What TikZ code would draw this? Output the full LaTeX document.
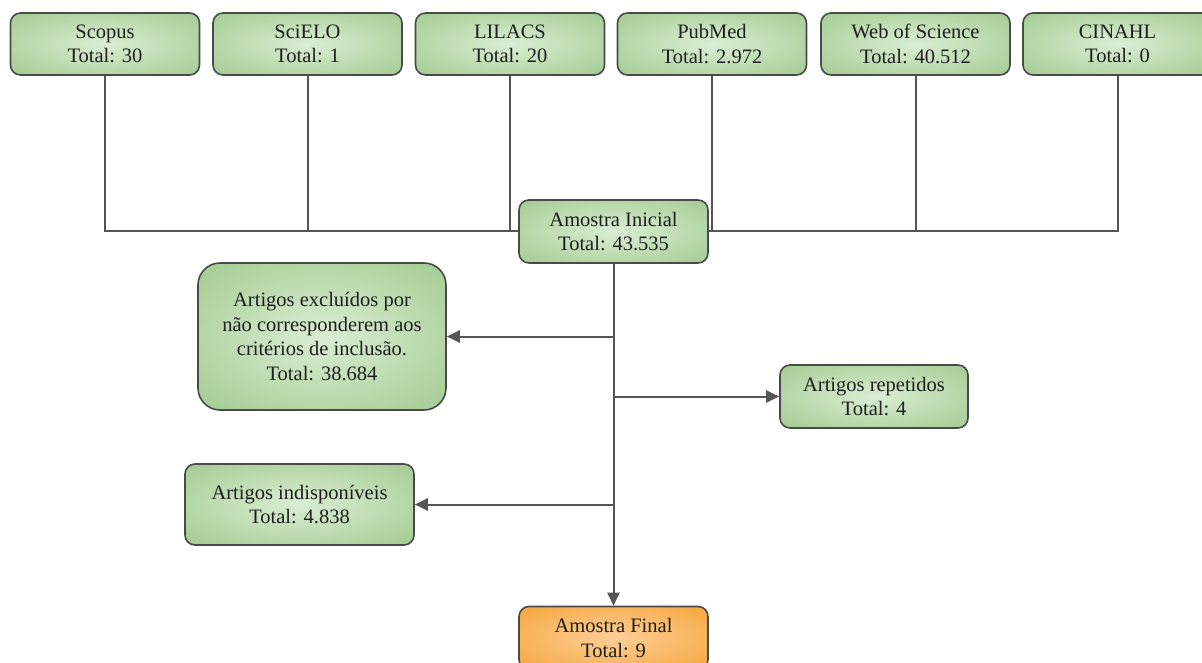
\documentclass[tikz,border=0pt]{standalone}
\usepackage{fontspec}
\setmainfont{Liberation Serif}
\usetikzlibrary{arrows.meta}
\definecolor{gIn}{HTML}{DAEED3}
\definecolor{gOut}{HTML}{90BF7B}
\definecolor{oIn}{HTML}{FDCF98}
\definecolor{oOut}{HTML}{F3971C}
\definecolor{edge}{HTML}{4A4A4A}
\definecolor{link}{HTML}{555555}
\pgfdeclareradialshading{greenrad}{\pgfpoint{0bp}{0bp}}{color(0bp)=(gIn); color(48bp)=(gOut); color(75bp)=(gOut)}
\pgfdeclareradialshading{orangerad}{\pgfpoint{0bp}{0bp}}{color(0bp)=(oIn); color(48bp)=(oOut); color(75bp)=(oOut)}
\tikzset{
  box/.style={draw=edge, line width=1.6pt, rounded corners=10pt, shading=greenrad,
    align=center, inner sep=0pt, font=\fontsize{20.5}{24.5}\selectfont, text=black!88},
  topbox/.style={box, minimum width=189pt, minimum height=62pt},
  finalbox/.style={box, shading=orangerad},
  link/.style={draw=link, line width=2pt},
  arr/.style={link, -{Triangle[length=13pt,width=12pt]}}
}
\begin{document}
\begin{tikzpicture}[x=1pt,y=-1pt]
\useasboundingbox (0,0) rectangle (1202,663);
\clip (0,0) rectangle (1202,663);
\fill[white] (0,0) rectangle (1202,663);
% top row
\node[topbox] (scopus) at (105,44) {Scopus\\Total: 30};
\node[topbox] (scielo) at (307.5,44) {SciELO\\Total: 1};
\node[topbox] (lilacs) at (510,44) {LILACS\\Total: 20};
\node[topbox] (pubmed) at (712,44) {PubMed\\Total: 2.972};
\node[topbox] (wos) at (915.5,44) {Web of Science\\Total: 40.512};
\node[topbox] (cinahl) at (1117.5,44) {CINAHL\\Total: 0};
% middle
\node[box, minimum width=189pt, minimum height=63pt] (inicial) at (613.5,231.5) {Amostra Inicial\\Total: 43.535};
\node[box, rounded corners=22pt, minimum width=248pt, minimum height=147pt] (excl) at (322,336.5)
  {Artigos excluídos por\\não corresponderem aos\\critérios de inclusão.\\Total: 38.684};
\node[box, minimum width=188pt, minimum height=63pt] (rep) at (874,396.5) {Artigos repetidos\\Total: 4};
\node[box, minimum width=229pt, minimum height=81pt] (indisp) at (299.5,504.5) {Artigos indisponíveis\\Total: 4.838};
\node[finalbox, minimum width=189pt, minimum height=63pt] (final) at (613.5,638) {Amostra Final\\Total: 9};
% connectors top
\draw[link] (scopus.south) |- (inicial.west);
\draw[link] (scielo.south) |- (inicial.west);
\draw[link] (lilacs.south) |- (inicial.west);
\draw[link] (pubmed.south) |- (inicial.east);
\draw[link] (wos.south) |- (inicial.east);
\draw[link] (cinahl.south) |- (inicial.east);
% trunk
\draw[arr] (inicial.south) -- (final.north);
\coordinate (b1) at (inicial.south |- excl.east);
\coordinate (b2) at (inicial.south |- rep.west);
\coordinate (b3) at (inicial.south |- indisp.east);
\draw[arr] (b1) -- (excl.east);
\draw[arr] (b2) -- (rep.west);
\draw[arr] (b3) -- (indisp.east);
\end{tikzpicture}
\end{document}
